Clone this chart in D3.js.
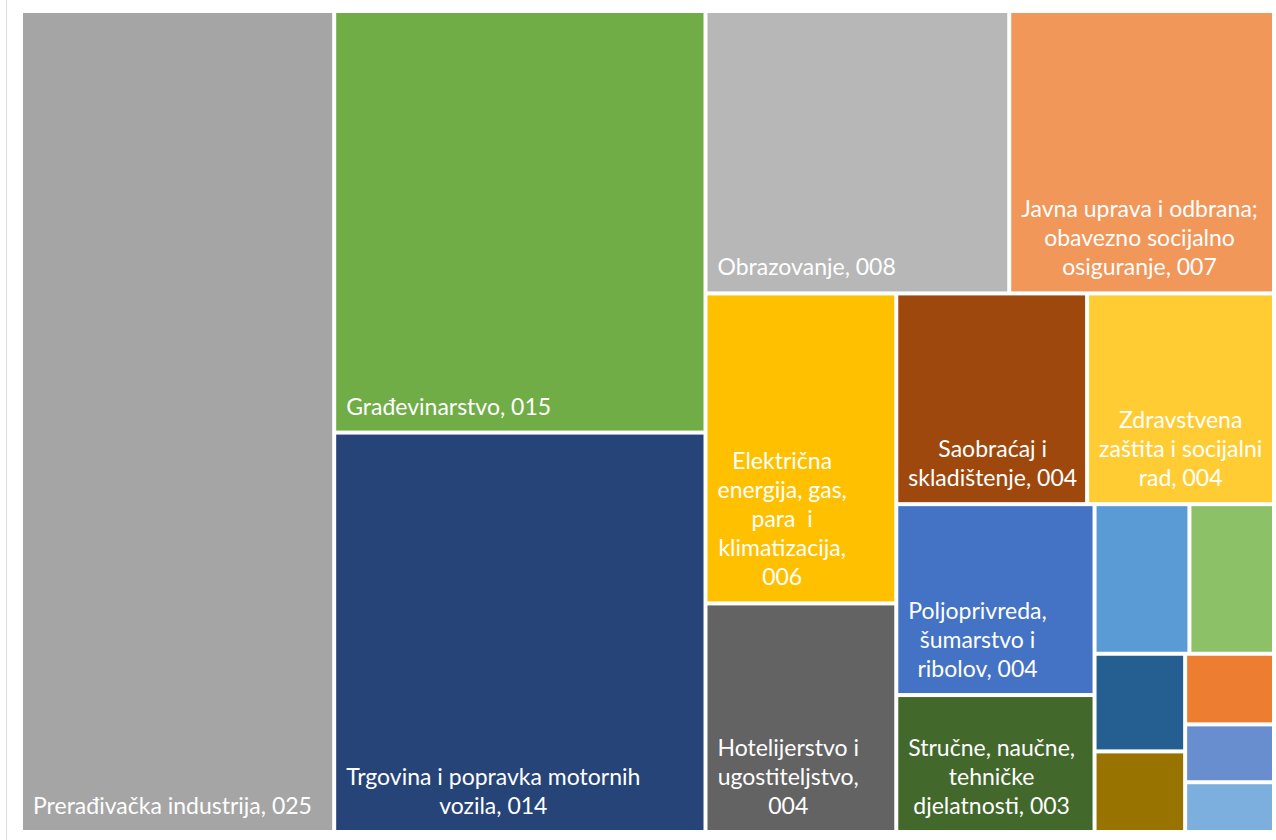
<!DOCTYPE html>
<html lang="sr">
<head>
<meta charset="UTF-8">
<title>Treemap: zaposleni po djelatnostima</title>
<script src="https://cdn.jsdelivr.net/npm/d3@7"></script>
<style>
  body { margin: 0; background: #fff; }
  .cell-label {
    font-family: Lato, "Noto Sans", sans-serif;
    font-size: 23px;
    fill: #fff;
    white-space: pre;
  }
</style>
</head>
<body>
<div id="chart"></div>
<script>
// djelatnosti u redoslijedu klasifikacije (Excel dodjeljuje boje tim redom)
const sectors = [
  "Poljoprivreda, šumarstvo i ribolov",
  "Vađenje ruda i kamena",
  "Prerađivačka industrija",
  "Električna energija, gas, para  i klimatizacija",
  "Snabdijevanje vodom i upravljanje otpadom",
  "Građevinarstvo",
  "Trgovina i popravka motornih vozila",
  "Saobraćaj i skladištenje",
  "Hotelijerstvo i ugostiteljstvo",
  "Informacije i komunikacije",
  "Finansijske djelatnosti i osiguranje",
  "Stručne, naučne, tehničke djelatnosti",
  "Administrativne i pomoćne djelatnosti",
  "Javna uprava i odbrana; obavezno socijalno osiguranje",
  "Obrazovanje",
  "Zdravstvena zaštita i socijalni rad",
  "Umjetnost, zabava i rekreacija",
  "Ostale uslužne djelatnosti"
];
const shares = [3.68, 0.61, 25.0, 5.75, 1.38, 15.22, 14.42, 3.91, 4.24,
                0.71, 0.86, 2.64, 0.50, 7.27, 8.34, 3.83, 0.43, 1.23];

// Office tema: akcenti, pa tamnije, pa svjetlije nijanse
const palette = [
  "#4472C4", "#ED7D31", "#A5A5A5", "#FFC000", "#5B9BD5", "#70AD47",
  "#264478", "#9E480E", "#636363", "#997300", "#255E91", "#43682B",
  "#698ED0", "#F1975A", "#B7B7B7", "#FFCD33", "#7CAFDD", "#8CC168"
];

const width = 1276, height = 840;
const margin = { top: 13, right: 4, bottom: 10, left: 23 };
const w = width - margin.left - margin.right,
      h = height - margin.top - margin.bottom;

const pad = 10, wrapInset = 17, lineH = 29, baseOff = 16;

const color = d3.scaleOrdinal().domain(sectors).range(palette);
const fmt = d3.format("03d");

// Excel drzi najveci element u zasebnoj traci, ostatak ide squarify
function excelTile(parent, x0, y0, x1, y1) {
  const [first, ...others] = parent.children;
  const rest = { children: others, value: parent.value - first.value };
  const split = (x1 - x0 >= y1 - y0) ? d3.treemapDice : d3.treemapSlice;
  split({ children: [first, rest], value: parent.value }, x0, y0, x1, y1);
  d3.treemapSquarify.ratio(1)(rest, rest.x0, rest.y0, rest.x1, rest.y1);
}

const data = sectors.map((name, i) => ({ name: name, value: shares[i] }));
const root = d3.hierarchy({ children: data })
  .sum(d => d.value)
  .sort((a, b) => b.value - a.value);

d3.treemap()
  .tile(excelTile)
  .size([w, h])
  .paddingInner(4)(root);

const svg = d3.select("#chart")
  .append("svg")
  .attr("width", width)
  .attr("height", height);

// tanka ivica okvira grafikona
svg.append("line")
  .attr("x1", 6.5).attr("x2", 6.5)
  .attr("y1", 0).attr("y2", height)
  .attr("stroke", "#dedede");

const g = svg.append("g")
  .attr("transform", "translate(" + margin.left + "," + margin.top + ")");

const leaves = g.selectAll("g.leaf")
  .data(root.leaves())
  .enter()
  .append("g")
  .attr("class", "leaf");

leaves.append("rect")
  .attr("x", d => d.x0)
  .attr("y", d => d.y0)
  .attr("width", d => d.x1 - d.x0)
  .attr("height", d => d.y1 - d.y0)
  .attr("fill", d => color(d.data.name));

// mjerenje teksta za prelamanje
const probe = svg.append("text").attr("class", "cell-label").attr("visibility", "hidden");
function textW(s) {
  probe.text(s);
  return probe.node().getComputedTextLength();
}

function wrap(label, maxW) {
  const words = label.split(" ");
  const lines = [];
  let cur = words[0];
  for (let i = 1; i < words.length; i++) {
    const test = cur + " " + words[i];
    if (textW(test) <= maxW) cur = test;
    else { lines.push(cur); cur = words[i]; }
  }
  lines.push(cur);
  return lines;
}

leaves.each(function (d) {
  const cw = d.x1 - d.x0, ch = d.y1 - d.y0;
  const maxW = cw - wrapInset;
  const label = d.data.name + ", " + fmt(Math.round(d.value));
  const lines = wrap(label, maxW);
  const widths = lines.map(textW);
  // Excel ne prikazuje oznaku koja ne staje u polje
  if (d3.max(widths) > maxW || lines.length * lineH > ch - pad) return;

  const cx = d.x0 + pad + d3.max(widths) / 2;
  const lastY = d.y1 - baseOff;
  d3.select(this).selectAll("text")
    .data(lines)
    .enter()
    .append("text")
    .attr("class", "cell-label")
    .attr("text-anchor", "middle")
    .attr("x", cx)
    .attr("y", (s, i) => lastY - (lines.length - 1 - i) * lineH)
    .text(s => s);
});

probe.remove();
</script>
</body>
</html>
